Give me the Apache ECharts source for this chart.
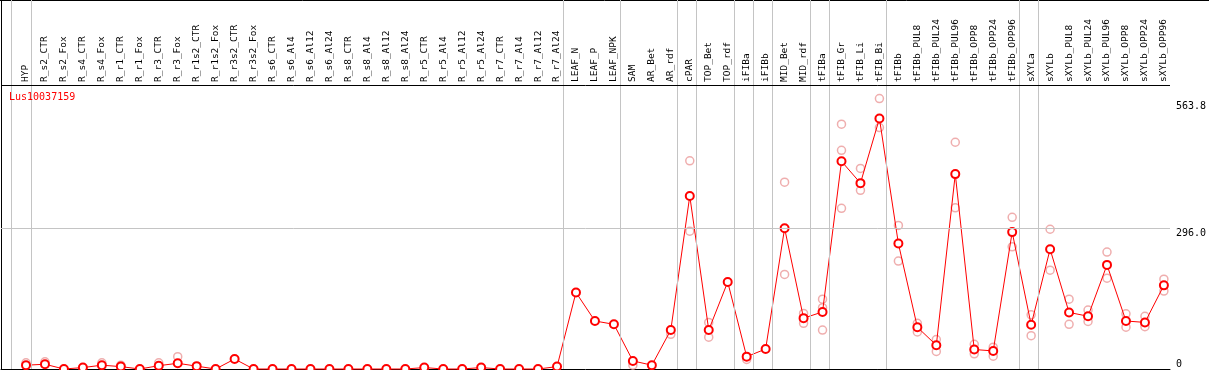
<!DOCTYPE html>
<html>
<head>
<meta charset="utf-8">
<script src="https://cdn.jsdelivr.net/npm/echarts@6/dist/echarts.min.js"></script>
<style>
  html, body { margin: 0; padding: 0; background: #fff; }
  #chart { width: 1209px; height: 370px; }
</style>
</head>
<body>
<div id="chart"></div>
<script>
const geneName = "Lus10037159";

const categories = [
  "HYP",
  "R_s2_CTR", "R_s2_Fox", "R_s4_CTR", "R_s4_Fox", "R_r1_CTR", "R_r1_Fox",
  "R_r3_CTR", "R_r3_Fox", "R_r1s2_CTR", "R_r1s2_Fox", "R_r3s2_CTR", "R_r3s2_Fox",
  "R_s6_CTR", "R_s6_Al4", "R_s6_Al12", "R_s6_Al24",
  "R_s8_CTR", "R_s8_Al4", "R_s8_Al12", "R_s8_Al24",
  "R_r5_CTR", "R_r5_Al4", "R_r5_Al12", "R_r5_Al24",
  "R_r7_CTR", "R_r7_Al4", "R_r7_Al12", "R_r7_Al24",
  "LEAF_N", "LEAF_P", "LEAF_NPK",
  "SAM", "AR_Bet", "AR_rdf",
  "cPAR", "TOP_Bet", "TOP_rdf",
  "iFIBa", "iFIBb", "MID_Bet", "MID_rdf",
  "tFIBa", "tFIB_Gr", "tFIB_Li", "tFIB_Bi",
  "tFIBb", "tFIBb_PUL8", "tFIBb_PUL24", "tFIBb_PUL96", "tFIBb_OPP8", "tFIBb_OPP24", "tFIBb_OPP96",
  "sXYLa",
  "sXYLb", "sXYLb_PUL8", "sXYLb_PUL24", "sXYLb_PUL96", "sXYLb_OPP8", "sXYLb_OPP24", "sXYLb_OPP96"
];

// mean expression per sample (red line)
const meanValues = [
  8,
  10, 0, 3, 8, 5, 0, 7, 12, 6, 0, 21, 0,
  0, 0, 0, 0,
  0, 0, 0, 0,
  3, 0, 0, 3,
  0, 0, 0, 5,
  161, 101, 94,
  17, 8, 82,
  364, 82, 183,
  26, 42, 296, 107,
  120, 437, 391, 527,
  264, 88, 50, 410, 41, 38, 288,
  93,
  252, 119, 111, 219, 101, 98, 176
];

// visible replicates (pink circles), null where hidden under the mean
const repHigh = [
  13,
  15, null, null, 13, 8, null, 13, 26, null, null, null, null,
  null, null, null, null,
  null, null, null, null,
  null, null, null, null,
  null, null, null, null,
  null, null, null,
  8, null, 73,
  438, 98, null,
  20, null, 393, 117,
  147, 515, 422, 569,
  302, 96, 62, 477, 52, 46, 319,
  114,
  294, 147, 124, 246, 116, 111, 189
];
const repLow = [
  null,
  null, null, null, null, null, null, null, null, null, null, null, null,
  null, null, null, null,
  null, null, null, null,
  null, null, null, null,
  null, null, null, null,
  null, null, null,
  null, null, null,
  290, 67, null,
  null, null, 199, 96,
  129, 460, 376, 508,
  227, 78, 37, 339, 32, 27, 257,
  70,
  208, 94, 100, 191, 88, 89, 164
];
const repExtra = [
  null,
  null, null, null, null, null, null, null, null, null, null, null, null,
  null, null, null, null,
  null, null, null, null,
  null, null, null, null,
  null, null, null, null,
  null, null, null,
  null, null, null,
  null, null, null,
  null, null, null, null,
  82, 338, null, null,
  null, null, null, null, null, null, null,
  null,
  null, null, null, null, null, null, null
];

const yTickLabels = [296.0, 563.8];
const groupBreaks = [-0.8, 0.25, 28.25, 31.25, 34.25, 35.25, 37.25, 38.25, 39.25, 41.25, 42.25, 45.25, 52.25, 53.25, 60.25];

// layout: plot bottom at 369px, 0.4753 px per unit, sample step 19px
const PX_PER_UNIT = 0.47534;
const dataYMax = 284 / PX_PER_UNIT;
const frameYMax = 369 / PX_PER_UNIT;
const frameXMin = (1 - 26) / 19;
const frameXMax = (1170 - 26) / 19;

const mono = "DejaVu Sans Mono";
const sepColor = "#c4c4c4";

const replicatePoints = [];
[repHigh, repLow, repExtra].forEach(arr => {
  arr.forEach((v, i) => { if (v !== null) replicatePoints.push([i, v]); });
});

const chart = echarts.init(document.getElementById("chart"));

const option = {
  animation: false,
  backgroundColor: "#fff",
  title: {
    text: geneName,
    left: 9,
    top: 92,
    padding: 0,
    textStyle: { color: "#ff0000", fontFamily: mono, fontSize: 10, fontWeight: "normal" }
  },
  graphic: [{
    type: "line",
    shape: { x1: 0, y1: 0.5, x2: 1209, y2: 0.5 },
    style: { stroke: "#000", lineWidth: 1 },
    silent: true
  }],
  grid: [
    { left: 1, right: 39, top: 0, bottom: 1 },
    { left: 26, right: 43, top: 85, bottom: 1 }
  ],
  xAxis: [
    {
      gridIndex: 0, type: "value", min: frameXMin, max: frameXMax,
      axisLine: { show: true, onZero: false, lineStyle: { color: "#000", width: 1 } },
      axisTick: { show: false }, axisLabel: { show: false }, splitLine: { show: false }
    },
    {
      gridIndex: 1, type: "category", data: categories, boundaryGap: false, position: "top",
      axisLine: { show: false }, axisTick: { show: false }, splitLine: { show: false },
      axisLabel: {
        interval: 0, rotate: 90, margin: 3,
        color: "#000", fontFamily: mono, fontSize: 9.5
      }
    }
  ],
  yAxis: [
    {
      gridIndex: 0, type: "value", min: 0, max: frameYMax,
      axisLine: { show: true, onZero: false, lineStyle: { color: "#000", width: 1 } },
      axisTick: { show: false }, axisLabel: { show: false }, splitLine: { show: false }
    },
    {
      gridIndex: 1, type: "value", min: 0, max: dataYMax, position: "right",
      axisLine: { show: false, onZero: false }, axisTick: { show: false }, splitLine: { show: false },
      axisLabel: {
        customValues: yTickLabels,
        formatter: v => v.toFixed(1),
        verticalAlign: "top", align: "left", margin: 12,
        color: "#000", fontFamily: mono, fontSize: 10
      }
    },
    {
      gridIndex: 1, type: "value", min: 0, max: dataYMax, position: "right",
      axisLine: { show: false, onZero: false }, axisTick: { show: false }, splitLine: { show: false },
      axisLabel: {
        customValues: [0],
        formatter: v => String(v),
        verticalAlign: "bottom", align: "left", margin: 12,
        color: "#000", fontFamily: mono, fontSize: 10
      }
    }
  ],
  series: [
    {
      // frame lines: group separators, 296 grid line, header rule
      type: "scatter",
      xAxisIndex: 0, yAxisIndex: 0,
      data: [],
      silent: true,
      markLine: {
        silent: true, symbol: "none", animation: false,
        label: { show: false },
        emphasis: { disabled: true },
        data: [
          ...groupBreaks.map(x => ({ xAxis: x, lineStyle: { color: sepColor, width: 1, type: "solid" } })),
          { yAxis: yTickLabels[0], lineStyle: { color: sepColor, width: 1, type: "solid" } },
          { yAxis: dataYMax, lineStyle: { color: "#000", width: 1, type: "solid" } }
        ]
      }
    },
    {
      name: "replicates",
      type: "scatter",
      xAxisIndex: 1, yAxisIndex: 1,
      data: replicatePoints,
      symbol: "circle",
      symbolSize: 8,
      clip: false,
      z: 3,
      itemStyle: { color: "rgba(255,255,255,0)", borderColor: "#eb9a9a", borderWidth: 1.5 }
    },
    {
      name: "mean",
      type: "line",
      xAxisIndex: 1, yAxisIndex: 1,
      data: meanValues,
      symbol: "emptyCircle",
      symbolSize: 8,
      showAllSymbol: true,
      clip: false,
      z: 4,
      lineStyle: { color: "#ff0000", width: 1 },
      itemStyle: { color: "#ff0000", borderColor: "#ff0000", borderWidth: 1.5 }
    }
  ]
};

chart.setOption(option);
</script>
</body>
</html>
